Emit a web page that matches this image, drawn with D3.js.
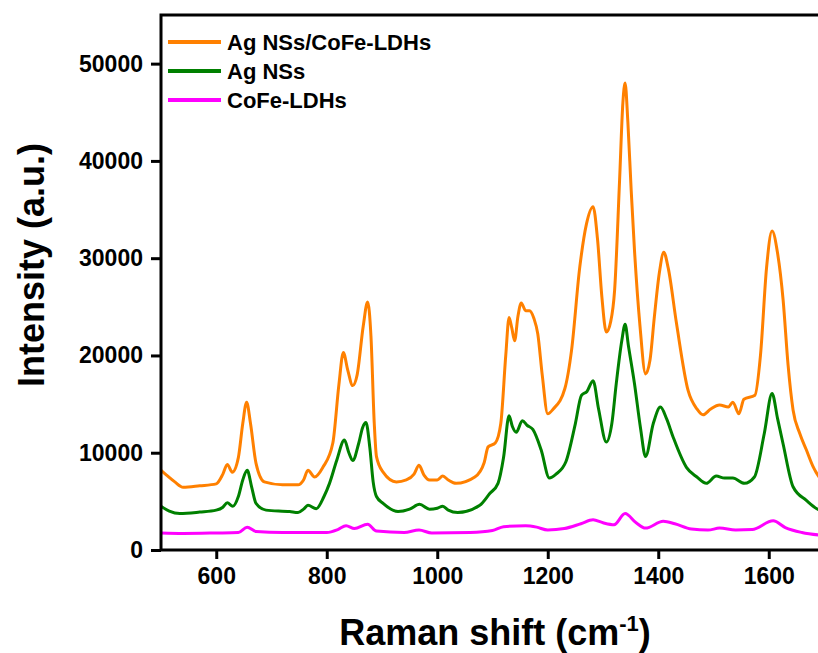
<!DOCTYPE html>
<html>
<head>
<meta charset="utf-8">
<script src="https://cdn.jsdelivr.net/npm/d3@7"></script>
<style>
  body { margin: 0; background: #fff; }
  svg text { font-family: "Liberation Sans", Arial, sans-serif; font-weight: bold; fill: #000; }
</style>
</head>
<body>
<svg id="chart"></svg>
<script>
const width = 818, height = 653;

// Raman spectra, [shift (cm-1), intensity (a.u.)]
const agCoFe = [[500,8200],[510,7700],[525,7000],[540,6450],[570,6600],[600,6800],[612,7800],[620,8800],[629,8000],[640,9500],[648,13000],[655,15200],[662,13000],[672,8900],[687,7000],[720,6700],[748,6700],[758,7200],[766,8200],[778,7500],[793,8500],[811,11000],[822,17000],[830,20300],[838,18500],[847,16900],[855,18000],[866,23000],[874,25500],[880,22000],[886,13000],[890,9600],[902,8000],[926,7000],[944,7200],[958,7800],[967,8700],[976,7700],[986,7200],[1000,7200],[1010,7600],[1020,7200],[1034,6850],[1068,7500],[1085,9000],[1092,10600],[1105,11000],[1115,13000],[1124,20000],[1130,23900],[1135,22800],[1140,21500],[1146,24000],[1152,25400],[1160,24600],[1167,24600],[1175,23800],[1182,22200],[1190,18000],[1200,14000],[1210,14500],[1231,16600],[1243,20500],[1258,29100],[1270,33500],[1282,35300],[1290,32000],[1298,26000],[1306,22400],[1314,23500],[1321,26700],[1330,38000],[1336,46000],[1340,48000],[1345,44000],[1351,37000],[1357,30800],[1367,23000],[1377,18100],[1385,19500],[1393,24000],[1402,28500],[1410,30600],[1418,29000],[1433,23300],[1454,16400],[1470,14500],[1481,13900],[1495,14500],[1511,14900],[1527,14700],[1535,15200],[1546,14000],[1555,15500],[1575,15900],[1585,20000],[1596,29000],[1606,32800],[1616,30500],[1626,25700],[1635,19000],[1644,14400],[1656,12000],[1668,10300],[1680,8600],[1690,7600],[1700,7000]];

const agNSs = [[500,4500],[515,4000],[534,3750],[570,3900],[600,4100],[612,4400],[620,4850],[630,4500],[640,5500],[648,7200],[656,8200],[664,6500],[672,4800],[690,4100],[733,3950],[748,3850],[758,4200],[766,4600],[781,4250],[795,5500],[805,6850],[818,9200],[832,11300],[840,10000],[847,9200],[858,11000],[865,12600],[871,13100],[878,10500],[884,7000],[890,5500],[902,4800],[929,3950],[950,4200],[968,4700],[986,4200],[1000,4300],[1010,4500],[1020,4100],[1037,3850],[1077,4600],[1095,5800],[1110,6850],[1120,9500],[1130,13800],[1136,12700],[1143,12100],[1154,13300],[1163,12800],[1173,12400],[1188,10300],[1203,7400],[1215,7800],[1233,9100],[1250,13000],[1261,15900],[1271,16300],[1282,17400],[1292,14500],[1306,11100],[1316,13000],[1324,17100],[1334,21500],[1340,23200],[1346,21000],[1357,17100],[1368,12500],[1377,9600],[1391,13000],[1404,14700],[1415,13500],[1427,11600],[1451,8500],[1470,7500],[1487,6850],[1505,7600],[1520,7400],[1535,7400],[1556,6850],[1574,7500],[1592,12000],[1606,16100],[1616,13500],[1626,10900],[1644,6500],[1668,5100],[1690,4150],[1700,4000]];

const coFeLDH = [[500,1750],[540,1700],[600,1750],[640,1800],[656,2350],[672,1900],[720,1800],[800,1800],[820,2100],[835,2500],[850,2200],[874,2650],[890,1950],[940,1800],[967,2050],[990,1750],[1060,1800],[1100,2000],[1120,2400],[1160,2500],[1180,2350],[1200,2050],[1230,2200],[1260,2700],[1282,3100],[1300,2800],[1320,2600],[1340,3750],[1360,2800],[1377,2250],[1409,2950],[1430,2700],[1460,2150],[1490,2050],[1511,2250],[1540,2050],[1570,2100],[1608,3000],[1630,2300],[1660,1800],[1690,1550],[1700,1500]];

const seriesNames = ["Ag NSs/CoFe-LDHs", "Ag NSs", "CoFe-LDHs"];
const seriesColors = ["#ff8000", "#008000", "#ff00ff"];
const xTicks = [600, 800, 1000, 1200, 1400, 1600];
const yTicks = [0, 10000, 20000, 30000, 40000, 50000];

const plotLeft = 161, plotTop = 15, plotBottom = 550, plotRight = 824;

const svg = d3.select("#chart")
  .attr("width", width)
  .attr("height", height);

const x = d3.scaleLinear().domain([500, 1700]).range([plotLeft, plotRight]);
const y = d3.scaleLinear().domain([0, 55000]).range([plotBottom, plotTop]);

svg.append("clipPath").attr("id", "plot-clip")
  .append("rect")
  .attr("x", plotLeft).attr("y", plotTop)
  .attr("width", plotRight - plotLeft).attr("height", plotBottom - plotTop);

// spectra
const line = d3.line()
  .x(d => x(d[0]))
  .y(d => y(d[1]))
  .curve(d3.curveMonotoneX);

const plot = svg.append("g").attr("clip-path", "url(#plot-clip)");
[coFeLDH, agNSs, agCoFe].forEach((data, i) => {
  plot.append("path")
    .datum(data)
    .attr("fill", "none")
    .attr("stroke", seriesColors[2 - i])
    .attr("stroke-width", 3)
    .attr("stroke-linejoin", "round")
    .attr("d", line);
});

// frame
svg.append("rect")
  .attr("x", plotLeft).attr("y", plotTop)
  .attr("width", plotRight - plotLeft).attr("height", plotBottom - plotTop)
  .attr("fill", "none")
  .attr("stroke", "#000")
  .attr("stroke-width", 3);

// x axis
const xAxis = svg.append("g")
  .attr("transform", `translate(0,${plotBottom})`)
  .call(d3.axisBottom(x).tickValues(xTicks).tickSize(9).tickPadding(9).tickFormat(d3.format("d")));
xAxis.select(".domain").remove();
xAxis.selectAll(".tick line").attr("stroke", "#000").attr("stroke-width", 3);
xAxis.selectAll(".tick text").style("font-size", "23px");

// y axis
const yAxis = svg.append("g")
  .attr("transform", `translate(${plotLeft},0)`)
  .call(d3.axisLeft(y).tickValues(yTicks).tickSize(10).tickPadding(8).tickFormat(d3.format("d")));
yAxis.select(".domain").remove();
yAxis.selectAll(".tick line").attr("stroke", "#000").attr("stroke-width", 3);
yAxis.selectAll(".tick text").style("font-size", "23px");

// axis titles
const xTitle = svg.append("text")
  .attr("x", 495).attr("y", 645)
  .attr("text-anchor", "middle")
  .style("font-size", "36px");
xTitle.append("tspan").text("Raman shift (cm");
xTitle.append("tspan").attr("dy", -14).style("font-size", "22px").text("-1");
xTitle.append("tspan").attr("dy", 14).text(")");

svg.append("text")
  .attr("transform", "translate(44,265) rotate(-90)")
  .attr("text-anchor", "middle")
  .style("font-size", "36px")
  .text("Intensity (a.u.)");

// legend
const legend = svg.append("g");
seriesNames.forEach((name, i) => {
  const ly = 42 + i * 29;
  legend.append("line")
    .attr("x1", 168).attr("x2", 221)
    .attr("y1", ly).attr("y2", ly)
    .attr("stroke", seriesColors[i])
    .attr("stroke-width", 4);
  legend.append("text")
    .attr("x", 227).attr("y", ly)
    .attr("dy", "0.36em")
    .style("font-size", "22px")
    .text(name);
});
</script>
</body>
</html>
